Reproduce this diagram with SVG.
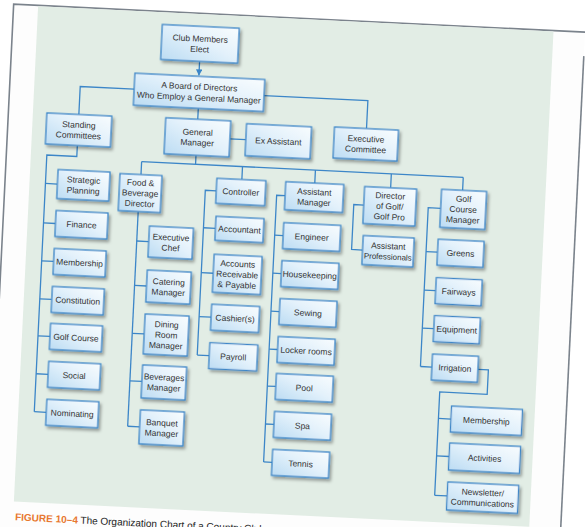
<svg xmlns="http://www.w3.org/2000/svg" width="585" height="527" viewBox="0 0 585 527">
<defs>
<linearGradient id="bx" x1="0" y1="1" x2="1" y2="0">
<stop offset="0" stop-color="#bcdcf3"/>
<stop offset="0.55" stop-color="#e3f1fb"/>
<stop offset="1" stop-color="#f8fcfe"/>
</linearGradient>
<filter id="sh" x="-20%" y="-20%" width="150%" height="160%">
<feDropShadow dx="2" dy="2.5" stdDeviation="1.8" flood-color="#000" flood-opacity="0.35"/>
</filter>
<marker id="ah" viewBox="0 0 6 6" refX="5.5" refY="3" markerWidth="5" markerHeight="5" orient="auto">
<path d="M0,0 L6,3 L0,6 z" fill="#3c86c8"/>
</marker>
<style>
.box rect{fill:url(#bx);stroke:#3c86c8;stroke-width:1.3;filter:url(#sh)}
.box text{font-family:"Liberation Sans",Arial,sans-serif;font-size:8.5px;fill:#333;text-anchor:middle}
.conn path{fill:none;stroke:#3c86c8;stroke-width:1.3}
.cap{font-family:"Liberation Sans",Arial,sans-serif;font-size:10px;fill:#222}
</style>
</defs>
<rect width="585" height="527" fill="#ffffff"/>
<g transform="rotate(2.8 290 260)">
<rect x="1.5" y="18" width="572" height="600" fill="#fdfdfd"/>
<path d="M1.5,640 L1.5,18 L640,18" fill="none" stroke="#7b838c" stroke-width="1.6"/>
<path d="M573.5,42 L573.5,640" fill="none" stroke="#7b838c" stroke-width="1.6"/>
<rect x="26" y="18.8" width="516" height="496" fill="#e2ede5"/>

<g id="connectors" class="conn">
<path d="M190,66 L190,80" marker-end="url(#ah)"/>
<path d="M126,97 L72,97 L72,125"/>
<path d="M256,97 L360,97 L360,125"/>
<path d="M191,113 L191,124"/>
<path d="M224,142 L240,142"/>
<path d="M191,160 L191,169"/>
<path d="M137,169 L459,169"/>
<path d="M137,169 L137,182 M238,169 L238,182 M311,169 L311,182 M387,169 L387,183 M459,169 L459,182"/>
<path d="M72,156 L72,167 L42,167 L42,424"/>
<path d="M42,195.5 H54 M42,235 H54 M42,273 H54 M42,311 H54 M42,348 H54 M42,386 H54 M42,424 H54"/>
<path d="M136,219 L136,434"/>
<path d="M136,248.5 H148 M136,293 H148 M136,341 H148 M136,388.5 H148 M136,434 H148"/>
<path d="M213,194.5 L202,194.5 L202,359.5"/>
<path d="M202,232 H214 M202,277 H214 M202,321 H214 M202,359.5 H214"/>
<path d="M282,196 L273.5,196 L273.5,463"/>
<path d="M273.5,236 H282 M273.5,274 H282 M273.5,312 H282 M273.5,350 H282 M273.5,387 H282 M273.5,425 H282 M273.5,463 H282"/>
<path d="M361,201.5 L351,201.5 L351,246.5 L362,246.5"/>
<path d="M438,201 L425.5,201 L425.5,360"/>
<path d="M425.5,245 H437 M425.5,283.5 H437 M425.5,321.5 H437 M425.5,360 H437"/>
<path d="M483,360 L493.5,360 L493.5,384.5 L446,384.5 L446,488"/>
<path d="M446,411 H458.5 M446,448.5 H458.5 M446,488 H458.5"/>
</g>

<g id="club" class="box"><rect x="151" y="31" width="77" height="35"/><text x="189.5" y="46.3">Club Members</text><text x="189.5" y="56.8">Elect</text></g>
<g id="board" class="box"><rect x="126" y="81" width="130" height="32"/><text x="191" y="94.3">A Board of Directors</text><text x="191" y="105.3">Who Employ a General Manager</text></g>
<g id="standing" class="box"><rect x="40" y="125" width="65" height="31"/><text x="72.5" y="138.3">Standing</text><text x="72.5" y="148.8">Committees</text></g>
<g id="gm" class="box"><rect x="159" y="124" width="65" height="36"/><text x="191.5" y="139.8">General</text><text x="191.5" y="150.3">Manager</text></g>
<g id="exassistant" class="box"><rect x="240" y="126" width="65" height="32"/><text x="272.5" y="145">Ex Assistant</text></g>
<g id="execcommittee" class="box"><rect x="328" y="125" width="64" height="31"/><text x="360" y="138.3">Executive</text><text x="360" y="148.8">Committee</text></g>

<g id="fb" class="box"><rect x="116" y="182" width="42" height="37"/><text x="137" y="193">Food &amp;</text><text x="137" y="203.5">Beverage</text><text x="137" y="214">Director</text></g>
<g id="controller" class="box"><rect x="213" y="182" width="49" height="25"/><text x="237.5" y="197.5">Controller</text></g>
<g id="asstmgr" class="box"><rect x="282" y="182" width="58" height="28"/><text x="311" y="193.8">Assistant</text><text x="311" y="204.3">Manager</text></g>
<g id="dirgolf" class="box"><rect x="361" y="183" width="52" height="37"/><text x="387" y="194">Director</text><text x="387" y="204.5">of Golf/</text><text x="387" y="215">Golf Pro</text></g>
<g id="golfmgr" class="box"><rect x="438" y="182" width="45" height="38"/><text x="460.5" y="193.5">Golf</text><text x="460.5" y="204">Course</text><text x="460.5" y="214.5">Manager</text></g>

<g id="strategic" class="box"><rect x="54" y="181" width="52" height="29"/><text x="80" y="193.3">Strategic</text><text x="80" y="203.8">Planning</text></g>
<g id="finance" class="box"><rect x="54" y="222" width="52" height="26"/><text x="80" y="238">Finance</text></g>
<g id="membership1" class="box"><rect x="54" y="260" width="52" height="26"/><text x="80" y="276">Membership</text></g>
<g id="constitution" class="box"><rect x="54" y="298" width="52" height="26"/><text x="80" y="314">Constitution</text></g>
<g id="golfcourse" class="box"><rect x="54" y="335" width="52" height="26"/><text x="80" y="351">Golf Course</text></g>
<g id="social" class="box"><rect x="54" y="373" width="52" height="26"/><text x="80" y="389">Social</text></g>
<g id="nominating" class="box"><rect x="54" y="411" width="52" height="26"/><text x="80" y="427">Nominating</text></g>

<g id="execchef" class="box"><rect x="148" y="233" width="44" height="31"/><text x="170" y="246.3">Executive</text><text x="170" y="256.8">Chef</text></g>
<g id="catering" class="box"><rect x="148" y="277" width="44" height="32"/><text x="170" y="290.8">Catering</text><text x="170" y="301.3">Manager</text></g>
<g id="dining" class="box"><rect x="148" y="321" width="44" height="40"/><text x="170" y="333.5">Dining</text><text x="170" y="344">Room</text><text x="170" y="354.5">Manager</text></g>
<g id="beverages" class="box"><rect x="148" y="372" width="44" height="33"/><text x="170" y="386.3">Beverages</text><text x="170" y="396.8">Manager</text></g>
<g id="banquet" class="box"><rect x="148" y="417" width="44" height="34"/><text x="170" y="431.8">Banquet</text><text x="170" y="442.3">Manager</text></g>

<g id="accountant" class="box"><rect x="214" y="220" width="48" height="24"/><text x="238" y="235">Accountant</text></g>
<g id="arap" class="box"><rect x="214" y="258" width="48" height="38"/><text x="238" y="269.5">Accounts</text><text x="238" y="280">Receivable</text><text x="238" y="290.5">&amp; Payable</text></g>
<g id="cashiers" class="box"><rect x="214" y="308" width="48" height="26"/><text x="238" y="324">Cashier(s)</text></g>
<g id="payroll" class="box"><rect x="214" y="346.5" width="48" height="26"/><text x="238" y="362.5">Payroll</text></g>

<g id="engineer" class="box"><rect x="282" y="223" width="57" height="26"/><text x="310.5" y="239">Engineer</text></g>
<g id="housekeeping" class="box"><rect x="282" y="261" width="57" height="26"/><text x="310.5" y="277">Housekeeping</text></g>
<g id="sewing" class="box"><rect x="282" y="299" width="57" height="26"/><text x="310.5" y="315">Sewing</text></g>
<g id="locker" class="box"><rect x="282" y="337" width="57" height="26"/><text x="310.5" y="353">Locker rooms</text></g>
<g id="pool" class="box"><rect x="282" y="374" width="57" height="26"/><text x="310.5" y="390">Pool</text></g>
<g id="spa" class="box"><rect x="282" y="412" width="57" height="26"/><text x="310.5" y="428">Spa</text></g>
<g id="tennis" class="box"><rect x="282" y="450" width="57" height="26"/><text x="310.5" y="466">Tennis</text></g>

<g id="asstpros" class="box"><rect x="362" y="232" width="51" height="29"/><text x="387.5" y="244.3">Assistant</text><text x="387.5" y="254.8" style="font-size:8px">Professionals</text></g>

<g id="greens" class="box"><rect x="437" y="232" width="46" height="26"/><text x="460" y="248">Greens</text></g>
<g id="fairways" class="box"><rect x="437" y="270.5" width="46" height="26"/><text x="460" y="286.5">Fairways</text></g>
<g id="equipment" class="box"><rect x="437" y="308.5" width="46" height="26"/><text x="460" y="324.5">Equipment</text></g>
<g id="irrigation" class="box"><rect x="437" y="347" width="46" height="26"/><text x="460" y="363">Irrigation</text></g>

<g id="membership2" class="box"><rect x="458.5" y="398" width="71" height="26"/><text x="494" y="414">Membership</text></g>
<g id="activities" class="box"><rect x="458.5" y="435" width="71" height="27"/><text x="494" y="451.5">Activities</text></g>
<g id="newsletter" class="box"><rect x="458.5" y="474" width="71" height="28"/><text x="494" y="485.8">Newsletter/</text><text x="494" y="496.3">Communications</text></g>

<text class="cap" x="28" y="533.5"><tspan font-weight="bold" fill="#e8772e">FIGURE 10–4</tspan> The Organization Chart of a Country Club</text>
</g>
</svg>
